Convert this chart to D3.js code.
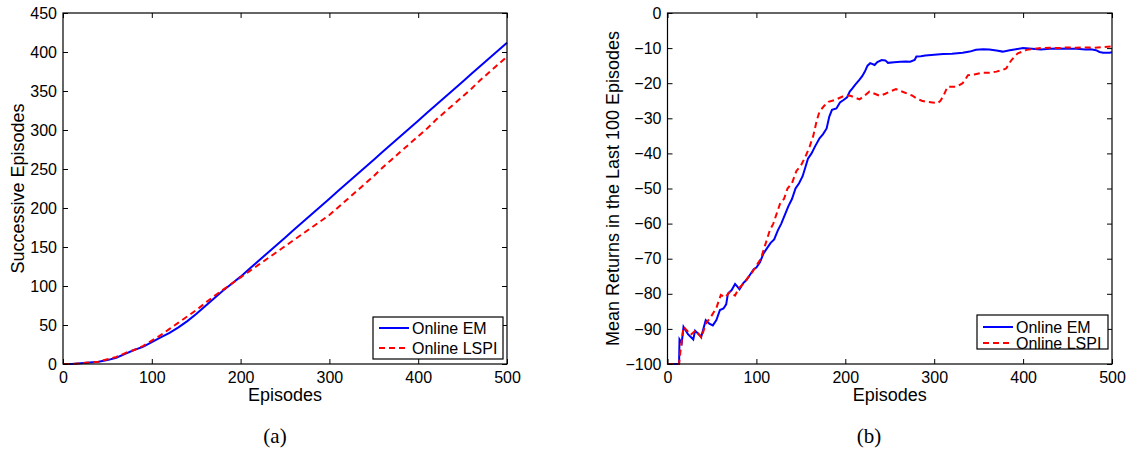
<!DOCTYPE html>
<meta charset="utf-8">
<style>
 body { margin: 0; background: white; }
 svg { display: block; }
 text { font-family: 'Liberation Sans', Arial, Helvetica, sans-serif; fill: #000; }
 .caption { font-family: 'Liberation Serif', 'Times New Roman', serif; }
</style>
<svg width="1130" height="451"></svg>
<script src="https://d3js.org/d3.v7.min.js"></script>
<script>
 // (a) successive episodes, sampled every 10 episodes
 var leftEpisodes = [0,10,20,30,40,50,60,70,80,90,100,110,120,130,140,150,160,170,180,190,200,
                     210,220,230,240,250,260,270,280,290,300,310,320,330,340,350,360,370,380,390,400,
                     410,420,430,440,450,460,470,480,490,500];
 var leftEm   = [0,0,1,2,3,5,8,13,18,22,28,34,40,47,55,64,74,84,94,103,112,
                 122,132,142,152,162,172,182,192,202,212,222,232,242,252,262,272,282,292,302,312,
                 322,332,342,352,362,372,382,392,402,412];
 var leftLspi = [0,0,1,2,3,6,9,14,18,23,30,37,45,53,61,69,78,87,95,103,111,
                 119,127,135,143,151,159,167,175,183,191,201,211,221,231,241,252,262,272,282,292,
                 302,313,323,333,343,353,364,374,384,394];
 var leftYTicks = [0,50,100,150,200,250,300,350,400,450];

 // (b) mean returns in the last 100 episodes
 var rightEmEpisodes = [0,13,13.5,16,18,23,29,31,35,38,43,47,51,55,59,63,66,68,72,76,81,85,89,93,97,100,
                        104,108,112,116,120,124,128,132,136,140,144,148,152,155,158,162,166,171,175,179,
                        182,185,190,194,198,202,205,208,211,216,219,222,225,228,233,236,241,245,248,255,
                        262,268,273,278,280,285,290,300,310,320,332,340,347,355,362,370,377,385,392,400,
                        410,420,430,440,450,460,470,476,482,486,490,497,500];
 var rightEmReturns  = [-100,-100,-93,-94,-89.4,-91.5,-93,-90.5,-91.5,-92.2,-87.5,-88.5,-89,-87.5,-84.6,-84.2,
                        -83,-79.9,-79,-77.2,-78.7,-77,-76,-74.5,-73,-72.5,
                        -71,-68.5,-67,-65.5,-64.5,-62,-60,-57.5,-55,-53,-50,-48.5,-46.5,-44,-41.5,-40,-38,-35.7,
                        -34.5,-32.9,-29.5,-27.6,-27.2,-25.5,-24.8,-24,-22.4,-21.5,-20.5,-19,-18,-16.7,-15,-14.3,
                        -14.8,-14,-13.4,-13.5,-14.2,-14,-13.9,-13.8,-13.9,-13.4,-12.4,-12.3,-12.1,-11.9,-11.7,
                        -11.6,-11.3,-11,-10.5,-10.3,-10.4,-10.7,-11,-10.6,-10.3,-10,
                        -10.2,-10.4,-10.2,-10.1,-10.2,-10.2,-10.4,-10.3,-10.6,-11.1,-11.3,-11.3,-11.2];
 var rightLspiEpisodes = [0,13,14.5,18,22,26,32,38,43.5,49,55,60,65,70,76,80,86,90,95,100,
                          105,110,115,119,123,127,131,135,140,145,150,155,160,164,168,171,176,181,188,197,
                          205,210,216,222,227,233,239,245,250,257,263,269,275,280,286,291,298,304,307,310,
                          315,320,325,332,336,338,345,355,362,370,376,381,384,387,390,394,399,404,410,420,
                          430,440,450,460,470,480,490,500];
 var rightLspiReturns  = [-100,-100,-96.5,-89.4,-90.5,-91.7,-90.4,-92.5,-88.3,-86.5,-84,-80.3,-81,-79.5,-80.5,
                          -78.5,-77,-75.5,-74,-72,
                          -70,-66,-62,-60,-57,-54,-53,-50,-48.5,-45,-43.5,-41,-38,-35,-30.5,-28.1,-26.5,-25.3,
                          -24.8,-23.8,
                          -23.5,-24,-24.6,-23.5,-22.4,-23,-23.6,-23,-22.4,-21.7,-22.3,-22.9,-23.5,-24.3,-25,
                          -25.3,-25.5,-25.7,-25,-23.8,
                          -21,-21,-21,-20,-18.5,-17.7,-17.5,-17,-17,-16.7,-16.3,-15.8,-14.5,-13.4,-12.5,-11.5,
                          -11,-10.5,-10.3,-10,
                          -9.9,-10,-9.8,-9.9,-9.8,-9.9,-9.7,-9.5];
 var rightYTicks = [-100,-90,-80,-70,-60,-50,-40,-30,-20,-10,0];

 var xTicks = [0,100,200,300,400,500];
 var seriesNames = ['Online EM', 'Online LSPI'];
 var seriesColors = ['#0000ff', '#ff0000'];
 var seriesDash = [null, '6,4'];

 var svg = d3.select('svg');

 function fmt(v) {
     return v < 0 ? '\u2212' + Math.abs(v) : String(v);
 }

 function drawPanel(p) {
     var g = svg.append('g');
     var x = d3.scaleLinear().domain([0, 500]).range([p.left, p.right]);
     var y = d3.scaleLinear().domain(p.yDomain).range([364, 13]);

     // lines
     p.series.forEach(function(s, i) {
         var line = d3.line()
             .x(function(d, j) { return x(s.x[j]); })
             .y(function(d) { return y(d); });
         g.append('path')
             .datum(s.y)
             .attr('d', line)
             .attr('fill', 'none')
             .attr('stroke', seriesColors[i])
             .attr('stroke-width', 2)
             .attr('stroke-dasharray', seriesDash[i]);
     });

     // box with inward ticks on all sides
     g.append('rect')
         .attr('x', p.left).attr('y', 13)
         .attr('width', p.right - p.left).attr('height', 351)
         .attr('fill', 'none').attr('stroke', '#000').attr('stroke-width', 1.2);

     var bottom = d3.axisBottom(x).tickValues(xTicks).tickSizeInner(-5).tickSizeOuter(0).tickPadding(8);
     var top = d3.axisTop(x).tickValues(xTicks).tickSizeInner(-5).tickSizeOuter(0).tickFormat('');
     var leftAx = d3.axisLeft(y).tickValues(p.yTicks).tickSizeInner(-5).tickSizeOuter(0).tickPadding(6).tickFormat(fmt);
     var rightAx = d3.axisRight(y).tickValues(p.yTicks).tickSizeInner(-5).tickSizeOuter(0).tickFormat('');

     [[bottom, 'translate(0,364)'], [top, 'translate(0,13)'],
      [leftAx, 'translate(' + p.left + ',0)'], [rightAx, 'translate(' + p.right + ',0)']].forEach(function(a) {
         var ax = g.append('g').attr('transform', a[1]).call(a[0]);
         ax.select('.domain').remove();
         ax.selectAll('line').attr('stroke', '#000').attr('stroke-width', 1);
         ax.selectAll('text').attr('font-size', 16)
             .attr('font-family', "'Liberation Sans', Arial, sans-serif").attr('fill', '#000');
     });

     // axis labels
     g.append('text')
         .attr('x', (p.left + p.right) / 2).attr('y', 401)
         .attr('text-anchor', 'middle').attr('font-size', 18)
         .text('Episodes');
     g.append('text')
         .attr('transform', 'translate(' + p.yLabelX + ',188.5) rotate(-90)')
         .attr('text-anchor', 'middle').attr('font-size', 18)
         .text(p.yLabel);

     // caption
     g.append('text').attr('class', 'caption')
         .attr('x', p.captionX).attr('y', 443)
         .attr('text-anchor', 'middle').attr('font-size', 21)
         .text(p.caption);

     // legend
     var L = p.legend;
     g.append('rect')
         .attr('x', L.x).attr('y', L.y).attr('width', L.w).attr('height', L.h)
         .attr('fill', 'white').attr('stroke', '#000').attr('stroke-width', 1.2);
     seriesNames.forEach(function(name, i) {
         var ly = L.y + L.first + i * L.step;
         g.append('line')
             .attr('x1', L.x + 6).attr('x2', L.x + 36).attr('y1', ly).attr('y2', ly)
             .attr('stroke', seriesColors[i]).attr('stroke-width', 2)
             .attr('stroke-dasharray', seriesDash[i]);
         g.append('text')
             .attr('x', L.x + 39).attr('y', ly + 6)
             .attr('font-size', 16)
             .text(name);
     });
 }

 drawPanel({
     left: 63, right: 507,
     yDomain: [0, 450], yTicks: leftYTicks,
     yLabel: 'Successive Episodes', yLabelX: 23.5,
     caption: '(a)', captionX: 275,
     series: [{x: leftEpisodes, y: leftEm}, {x: leftEpisodes, y: leftLspi}],
     legend: {x: 373, y: 317, w: 130, h: 42, first: 11, step: 20}
 });

 drawPanel({
     left: 667.5, right: 1112,
     yDomain: [-100, 0], yTicks: rightYTicks,
     yLabel: 'Mean Returns in the Last 100 Episodes', yLabelX: 619,
     caption: '(b)', captionX: 869,
     series: [{x: rightEmEpisodes, y: rightEmReturns}, {x: rightLspiEpisodes, y: rightLspiReturns}],
     legend: {x: 977, y: 315, w: 131, h: 34, first: 12, step: 16}
 });
</script>
